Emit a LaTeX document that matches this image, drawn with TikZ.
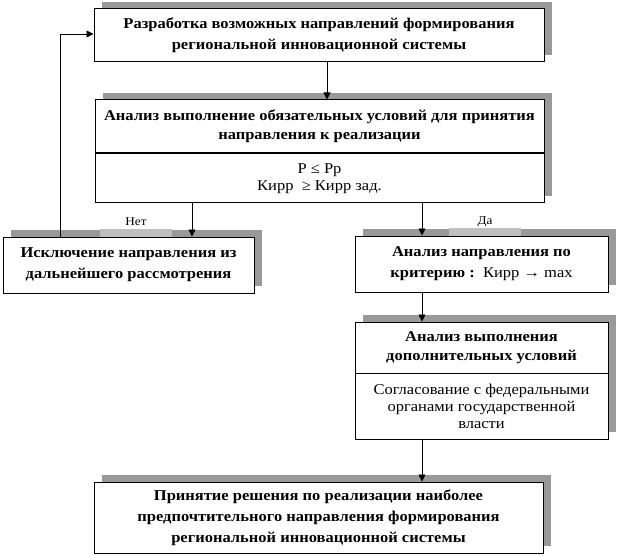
\documentclass[tikz,border=0pt]{standalone}
\usepackage{fontspec}
\setmainfont{Liberation Serif}[FakeStretch=1.1]
\usetikzlibrary{arrows.meta,shadows}
\begin{document}
\begin{tikzpicture}[x=1pt,y=-1pt,
  box/.style={draw, line width=1pt, fill=white, inner sep=0pt,
    general shadow={fill=black!40, shadow xshift=8pt, shadow yshift=7pt}},
  arr/.style={-{Triangle[length=7pt,width=7pt]}, line width=0.8pt},
  hd/.style={font=\bfseries\fontsize{15}{21}\selectfont, align=center, inner sep=0pt},
  hdb/.style={font=\bfseries\fontsize{15}{18.5}\selectfont, align=center, inner sep=0pt},
  tx/.style={font=\fontsize{15}{17}\selectfont, align=center, inner sep=0pt},
  lbl/.style={font=\fontsize{12}{14}\selectfont, inner sep=0pt},
  patch/.style={fill=black!25}
]
\useasboundingbox (0,0) rectangle (618,556);

% boxes
\node[box, minimum width=450pt, minimum height=53pt] (b1) at (319,35.5) {};
\node[box, minimum width=449pt, minimum height=103pt] (b2) at (319.5,151.5) {};
\node[box, minimum width=251pt, minimum height=56pt] (b4) at (128.5,265) {};
\node[box, minimum width=253pt, minimum height=56pt] (b5) at (481.5,264) {};
\node[box, minimum width=253pt, minimum height=117pt] (b6) at (481.5,380.5) {};
\node[box, minimum width=449pt, minimum height=71pt] (b7) at (318.5,517.5) {};

% dividers
\draw[line width=1.4pt] (b2.west |- 0,153) -- (b2.east |- 0,153);
\draw[line width=1pt] (b6.west |- 0,373) -- (b6.east |- 0,373);

% texts
\node[hd] (t1) at (b1.center) {Разработка возможных направлений формирования\\региональной инновационной системы};
\node[hdb] (t2a) at (319.5,126) {Анализ выполнение обязательных условий для принятия\\направления к реализации};
\node[tx] (t2b) at (319.5,178.5) {P ≤ Pp\\Кирр\ \ ≥ Кирр зад.};
\node[hd] (t4) at (b4.center) {Исключение направления из\\дальнейшего рассмотрения};
\node[hd] (t5) at (b5.center) {Анализ направления по\\критерию :\ \ \mdseries Кирр → max};
\node[hdb] (t6a) at (481.5,347.5) {Анализ выполнения\\дополнительных условий};
\node[tx] (t6b) at (481.5,406.5) {Согласование с федеральными\\органами государственной\\власти};
\node[hd] (t7) at (b7.center) {Принятие решения по реализации наиболее\\предпочтительного направления формирования\\региональной инновационной системы};

% label patches
\fill[patch] (100,228.5) rectangle (172,236.5);
\fill[patch] (449,227.5) rectangle (521,235.5);
\node[lbl] (no) at (136,222) {Нет};
\node[lbl] (yes) at (485,222) {Да};

% connectors
\draw[arr] (b1.south -| 327,0) -- (b2.north -| 327,0);
\draw[arr] (b2.south -| 192,0) -- (b4.north -| 192,0);
\draw[arr] (b2.south -| 422,0) -- (b5.north -| 422,0);
\draw[arr] (b5.south -| 422,0) -- (b6.north -| 422,0);
\draw[arr] (b6.south -| 422,0) -- (b7.north -| 422,0);
\coordinate (fb) at (60,34);
\draw[arr] (b4.north -| fb) -- (fb) -- (b1.west |- fb);
\end{tikzpicture}
\end{document}
